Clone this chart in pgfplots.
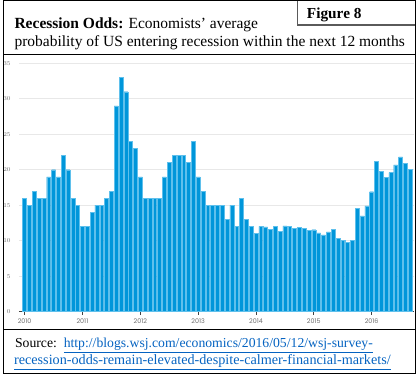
\documentclass[border=0pt]{standalone}
\usepackage{pgfplots}
\pgfplotsset{compat=1.18}
\usepackage{fontspec}
\setmainfont{Liberation Serif}
\newfontfamily\tickfont{Poppins}
\definecolor{barblue}{RGB}{0,150,218}
\definecolor{baredge}{RGB}{95,192,236}
\definecolor{linkblue}{RGB}{5,99,193}
\definecolor{tickgray}{RGB}{110,110,110}
\definecolor{gridgray}{RGB}{232,232,232}
\definecolor{framegray}{RGB}{90,90,90}
\begin{document}
\begin{tikzpicture}[x=1pt,y=1pt]
\path (0pt,0pt) rectangle (419pt,-378pt);
\begin{axis}[
  at={(16pt,-313.7pt)}, anchor=south west,
  scale only axis, width=398pt, height=250pt,
  xmin=-1.2, xmax=80.8, ymin=0, ymax=35,
  axis x line*=bottom, axis y line*=left,
  y axis line style={draw=none},
  x axis line style={draw=black!75, line width=0.8pt, -},
  ytick={0,5,...,35},
  ymajorgrids, grid style={gridgray, line width=0.8pt},
  xtick={0,12,24,36,48,60,72},
  xticklabels={2010,2011,2012,2013,2014,2015,2016},
  x tick style={draw=black!75, line width=0.8pt},
  major x tick style={/pgfplots/major tick length=3pt},
  y tick style={draw=none},
  tick align=outside,
  tick label style={font=\tickfont\fontsize{6.4}{7}\selectfont, text=tickgray},
  yticklabel style={anchor=east, xshift=-0.5pt},
  xticklabel style={yshift=0.5pt},
  clip=false,
]
\addplot[ybar, bar width=0.82, fill=barblue, draw=baredge, line width=0.35pt] table {
x y
0 16
1 15
2 17
3 16
4 16
5 19
6 20
7 19
8 22
9 20
10 16
11 15
12 12
13 12
14 14
15 15
16 15
17 16
18 17
19 29
20 33
21 31
22 24
23 23
24 19
25 16
26 16
27 16
28 16
29 19
30 21
31 22
32 22
33 22
34 21
35 24
36 19
37 17
38 15
39 15
40 15
41 15
42 13
43 15
44 12
45 16
46 13
47 12
48 11
49 12
50 11.95
51 11.6
52 12
53 11.3
54 12.1
55 12.05
56 11.7
57 11.9
58 11.75
59 11.45
60 11.55
61 11.1
62 10.8
63 11.25
64 11.6
65 10.35
66 10.0
67 9.8
68 10.0
69 14.6
70 13.5
71 14.9
72 16.9
73 21.2
74 19.8
75 18.9
76 19.6
77 20.7
78 21.8
79 20.9
80 20.1
};
\end{axis}
% frames
\draw[black, line width=1pt] (1pt,-0.5pt) rectangle (415pt,-376pt);
\draw[black, line width=1pt] (1pt,-54.5pt) -- (415pt,-54.5pt);
\draw[black, line width=1pt] (1pt,-332pt) -- (415pt,-332pt);
\draw[framegray, line width=1.2pt] (297pt,-0.5pt) -- (297pt,-25pt) -- (415pt,-25pt);
% title
\node[anchor=base west, inner sep=0] at (11.5pt,-29pt) {\fontsize{15.6}{18}\selectfont\textbf{Recession Odds:} Economists’ average};
\node[anchor=base west, inner sep=0] at (11.5pt,-46.7pt) {\fontsize{15.6}{18}\selectfont probability of US entering recession within the next 12 months};
\node[anchor=base west, inner sep=0] at (306pt,-19pt) {\fontsize{15.4}{18}\selectfont\textbf{Figure 8}};
% source
\node[anchor=base west, inner sep=0] at (12pt,-350pt) {\fontsize{13.8}{16}\selectfont Source:\ \ \textcolor{linkblue}{\underline{http://blogs.wsj.com/economics/2016/05/12/wsj-survey-}}};
\node[anchor=base west, inner sep=0] at (11pt,-367.3pt) {\fontsize{14.3}{16}\selectfont\textcolor{linkblue}{\underline{recession-odds-remain-elevated-despite-calmer-financial-markets/}}};
\end{tikzpicture}
\end{document}
